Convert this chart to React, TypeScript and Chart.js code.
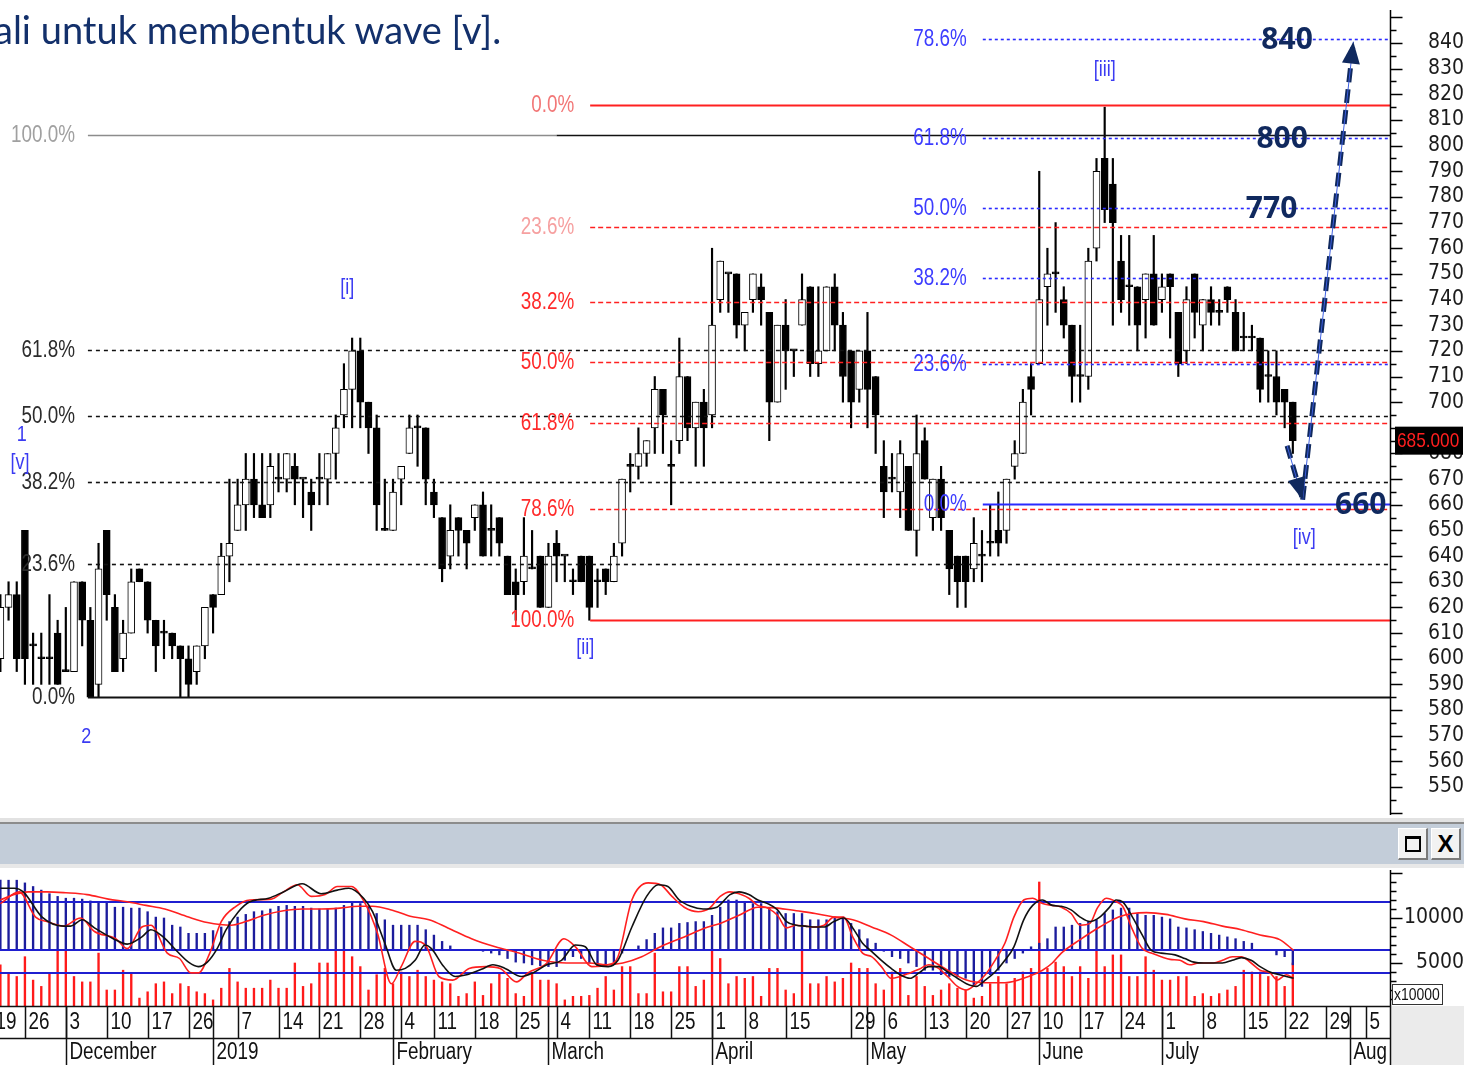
import React, { useEffect, useRef } from 'react';
import { Chart, registerables } from 'chart.js';

Chart.register(...registerables);

const SANS = "'Liberation Sans', Arial, sans-serif";
const AXIS_FONT = "'DejaVu Sans Condensed', 'Liberation Sans', sans-serif";
const NAVY = '#10295e';

// ---------------- price candles (trading-day index; day 0 = 19 Nov 2018) ----------------
const FIRST_DAY = 1;
const opens = [
  600, 620, 625, 650, 605, 600, 600, 610, 595, 595,
  630, 615, 590, 650, 620, 600, 610, 635, 630, 615,
  610, 610, 605, 600, 595, 605, 625, 625, 640, 650,
  660, 670, 660, 660, 670, 670, 675, 670, 665, 670,
  670, 680, 695, 705, 720, 700, 690, 650, 650, 670,
  680, 690, 690, 665, 655, 640, 655, 650, 655, 660,
  650, 655, 640, 630, 630, 635, 640, 620, 645, 640,
  630, 640, 640, 630, 635, 630, 645, 675, 675, 680,
  690, 705, 675, 685, 710, 690, 700, 695, 740, 750,
  750, 730, 740, 745, 735, 700, 730, 720, 730, 745,
  715, 720, 745, 730, 720, 705, 720, 710, 675, 670,
  665, 675, 650, 685, 655, 670, 650, 640, 640, 635,
  640, 645, 650, 650, 675, 680, 710, 715, 745, 750,
  740, 730, 710, 710, 760, 795, 785, 755, 745, 745,
  740, 750, 740, 750, 735, 720, 750, 730, 740, 735,
  745, 735, 725, 725, 725, 710, 710, 705, 700,
];
const highs = [
  625, 630, 630, 650, 610, 610, 625, 615, 620, 630,
  630, 620, 645, 650, 625, 615, 635, 635, 630, 615,
  615, 610, 605, 605, 605, 620, 625, 645, 670, 670,
  680, 680, 680, 680, 680, 680, 680, 670, 670, 680,
  680, 695, 715, 725, 725, 700, 695, 670, 670, 675,
  695, 695, 690, 670, 655, 660, 655, 650, 660, 665,
  660, 655, 640, 635, 655, 650, 640, 645, 650, 640,
  635, 640, 640, 635, 635, 645, 670, 680, 690, 685,
  710, 705, 685, 725, 710, 700, 705, 760, 755, 750,
  750, 735, 750, 750, 735, 730, 740, 720, 750, 745,
  745, 745, 750, 735, 720, 720, 735, 710, 685, 680,
  685, 675, 695, 690, 670, 675, 650, 640, 640, 655,
  650, 660, 665, 670, 685, 705, 715, 790, 760, 770,
  745, 730, 730, 760, 795, 815, 795, 765, 765, 745,
  750, 765, 750, 750, 735, 745, 750, 740, 745, 740,
  745, 740, 735, 730, 725, 720, 720, 705, 700,
];
const lows = [
  595, 615, 595, 590, 590, 590, 590, 590, 595, 595,
  605, 585, 585, 615, 595, 595, 610, 630, 610, 595,
  600, 600, 585, 585, 590, 600, 610, 625, 630, 650,
  650, 655, 655, 655, 665, 665, 660, 655, 650, 660,
  660, 670, 690, 690, 690, 680, 650, 650, 650, 660,
  680, 675, 660, 655, 630, 635, 640, 635, 650, 640,
  640, 640, 625, 615, 625, 635, 620, 620, 630, 630,
  625, 630, 615, 620, 625, 630, 640, 665, 670, 675,
  680, 680, 660, 680, 685, 675, 675, 690, 735, 735,
  725, 720, 735, 730, 685, 700, 705, 710, 730, 710,
  710, 720, 720, 700, 690, 700, 690, 680, 655, 665,
  655, 650, 640, 670, 650, 650, 625, 620, 620, 630,
  630, 640, 640, 645, 670, 680, 695, 715, 730, 735,
  725, 700, 700, 705, 755, 770, 730, 735, 730, 720,
  725, 730, 735, 725, 710, 715, 725, 720, 730, 730,
  735, 720, 720, 720, 700, 700, 695, 690, 680,
];
const closes = [
  620, 625, 600, 600, 605, 600, 600, 590, 595, 630,
  615, 585, 635, 625, 595, 610, 630, 630, 615, 605,
  610, 605, 600, 590, 605, 620, 620, 640, 645, 660,
  670, 660, 655, 675, 670, 680, 670, 670, 660, 670,
  680, 690, 705, 720, 700, 690, 660, 650, 665, 675,
  690, 690, 670, 660, 635, 650, 650, 645, 660, 640,
  650, 645, 625, 625, 640, 635, 620, 640, 640, 640,
  630, 630, 620, 630, 630, 640, 670, 675, 680, 685,
  705, 695, 675, 710, 690, 700, 690, 730, 755, 750,
  730, 735, 750, 740, 700, 730, 720, 720, 740, 715,
  720, 745, 730, 710, 700, 720, 705, 695, 665, 670,
  680, 650, 680, 670, 670, 655, 635, 630, 630, 645,
  640, 645, 645, 670, 680, 700, 705, 740, 750, 750,
  730, 710, 710, 755, 790, 775, 770, 740, 745, 730,
  750, 730, 745, 745, 715, 740, 735, 740, 735, 735,
  740, 720, 725, 725, 705, 710, 700, 700, 685,
];

// ---------------- indicator panel ----------------
const HIST_BASE = 6450;
const histogram = [
  14200, 14200, 14200, 13900, 13500, 13100, 12700, 12400, 12200, 12200,
  12100, 11900, 11800, 11800, 11200, 11200, 11100, 11100, 10700, 10100,
  10000, 9200, 9000, 8300, 8300, 8300, 8600, 9000, 9600, 10100,
  10400, 10700, 10800, 11000, 11300, 11400, 11300, 11300, 11100, 11000,
  11000, 11100, 11400, 11800, 11600, 11300, 10500, 9800, 9200, 9200,
  9200, 9200, 8700, 8100, 7400, 6900, 6500, 6450, 6400, 6300,
  6100, 5900, 5500, 5100, 5000, 4800, 4700, 4600, 4600, 5300,
  5700, 5500, 5000, 4600, 4800, 5100, 6100, 6450, 6900, 7600,
  8300, 8900, 8900, 9400, 9500, 9600, 9600, 10300, 11200, 12000,
  12000, 11800, 11600, 11600, 11100, 10700, 10500, 10500, 10500, 9800,
  9800, 9800, 10100, 10100, 9400, 8700, 7700, 7200, 6300, 5700,
  5500, 5000, 4600, 4200, 4200, 3700, 3500, 3500, 3300, 2400,
  2400, 3700, 4200, 5000, 5500, 6100, 6800, 7200, 7700, 9000,
  9000, 9200, 9400, 9600, 9800, 10500, 10900, 11100, 11100, 10500,
  10300, 10300, 10100, 9900, 9000, 8900, 8700, 8500, 8300, 8100,
  7900, 7700, 7400, 7200, 6450, 6450, 5900, 5700, 4800,
];
const volumes = [
  4800, 3900, 3500, 5700, 3100, 2400, 3900, 6300, 6300, 3500,
  2900, 2900, 6100, 2000, 2000, 4200, 3900, 1100, 1800, 2700,
  2900, 1600, 2700, 2400, 1800, 1600, 900, 2200, 4400, 2900,
  2200, 2200, 2200, 3100, 2200, 2200, 5000, 2400, 2700, 5000,
  5000, 6300, 6300, 5700, 4600, 2000, 3700, 4400, 2700, 4000,
  3500, 4200, 3500, 3100, 2900, 2700, 1300, 1600, 2900, 1400,
  2700, 3900, 3300, 1600, 1300, 3900, 3100, 3100, 2700, 900,
  1300, 1300, 1400, 2200, 3500, 2000, 4600, 4600, 1600, 1600,
  6100, 1800, 1800, 4600, 4600, 2400, 3100, 6300, 5500, 2700,
  3500, 3300, 3500, 1300, 4400, 4400, 2000, 1600, 6400, 2700,
  2700, 3500, 2900, 3300, 5000, 4400, 4400, 2700, 2000, 4000,
  4400, 1400, 3500, 2400, 1400, 2000, 2700, 2200, 2000, 1100,
  1300, 2700, 3500, 2700, 3300, 4000, 4400, 14000, 4400, 5100,
  4600, 3500, 4600, 3300, 6400, 4600, 5900, 5900, 3500, 3500,
  5700, 4200, 3100, 3100, 3500, 3500, 1300, 1600, 1300, 1600,
  2000, 2400, 4200, 4000, 4000, 3500, 3500, 2400, 5000,
];
const oscBlack = [
  [1.0, 13300], [2.7, 13300], [3.8, 12900], [6.1, 10100], [8.7, 9100], [9.6, 9100], [11.0, 9800], [12.5, 8900],
  [14.8, 7700], [16.5, 7100], [18.3, 7900], [19.4, 8700], [20.9, 7900], [22.6, 6300], [24.0, 5100], [25.2, 4600],
  [26.3, 5100], [27.5, 6600], [28.6, 8700], [30.1, 10700], [31.5, 11800], [33.8, 12200], [35.6, 12900], [37.9, 13800],
  [40.2, 12700], [42.2, 13100], [43.6, 13300], [45.4, 12200], [46.5, 10700], [48.0, 7200], [49.4, 4200], [50.5, 4400],
  [51.7, 5300], [52.9, 7000], [53.7, 6600], [55.2, 4600], [56.6, 3500], [58.0, 3700], [59.8, 4300], [61.2, 4800],
  [62.7, 4400], [64.7, 3500], [66.1, 3900], [67.8, 4800], [69.6, 5300], [71.3, 7000], [72.5, 6800], [73.9, 4800],
  [75.3, 4600], [76.5, 5300], [78.2, 9000], [80.0, 12400], [81.4, 13700], [82.6, 13500], [84.0, 12000], [85.4, 11300],
  [86.9, 11000], [88.6, 11200], [90.2, 12600], [91.3, 12900], [92.5, 12600], [93.6, 12000], [94.8, 11600], [96.0, 10900],
  [97.1, 9600], [98.3, 9200], [99.4, 9100], [100.6, 9000], [101.7, 9000], [102.9, 9600], [104.1, 10000], [105.2, 8900],
  [106.4, 7200], [107.5, 6300], [108.7, 5300], [109.9, 4400], [111.0, 3700], [112.2, 3300], [113.3, 3900], [114.5, 4600],
  [115.7, 4600], [116.8, 4000], [118.0, 3300], [119.1, 2700], [120.3, 2400], [121.4, 3100], [122.6, 4000], [123.8, 5300],
  [124.9, 6800], [126.1, 9800], [127.2, 11400], [128.4, 12000], [129.6, 11400], [130.7, 11300], [131.9, 10900], [133.0, 10100],
  [134.2, 9600], [135.4, 10100], [136.5, 11100], [137.4, 12000], [138.2, 11800], [139.4, 10100], [140.6, 8100], [141.7, 6400],
  [142.9, 6100], [144.6, 5900], [145.8, 5500], [146.9, 5100], [148.1, 5000], [149.3, 5000], [150.4, 5000], [151.6, 5300],
  [152.7, 5600], [153.9, 5300], [155.0, 4600], [156.2, 4000], [157.4, 3700], [158.2, 3500], [159.1, 3300],
];
const oscRed = [
  [1.0, 11600], [3.3, 12900], [5.3, 10100], [6.7, 9600], [8.7, 9100], [10.8, 10000], [12.5, 8500], [15.1, 7700],
  [16.5, 6600], [18.3, 9000], [19.4, 9200], [21.4, 6100], [22.9, 5500], [24.3, 3900], [25.2, 3900], [26.6, 6100],
  [28.0, 9600], [29.8, 11300], [31.5, 12000], [34.1, 12100], [35.6, 12900], [37.3, 13700], [39.0, 12400], [40.7, 12600],
  [42.2, 13500], [43.9, 13500], [45.6, 11600], [47.1, 8300], [48.8, 2700], [50.0, 4600], [51.7, 7400], [53.1, 6800],
  [54.6, 3500], [56.3, 3100], [58.3, 4400], [60.3, 4600], [62.1, 4400], [64.1, 2900], [65.5, 3900], [67.8, 5000],
  [69.9, 7700], [71.3, 6800], [73.3, 4600], [75.3, 4800], [76.5, 5700], [78.2, 12000], [80.2, 13900], [81.7, 13700],
  [83.1, 12400], [84.6, 11200], [86.3, 10700], [87.7, 11100], [89.0, 12400], [90.2, 12900], [91.3, 12700], [92.5, 12200],
  [93.6, 11400], [94.8, 11100], [96.0, 10300], [97.1, 8900], [98.3, 9200], [99.4, 9100], [100.6, 9000], [101.7, 9200],
  [102.9, 10100], [104.1, 10100], [105.2, 7900], [106.4, 6100], [107.5, 5700], [108.7, 4600], [109.9, 3300], [111.0, 3500],
  [112.2, 3900], [113.3, 4300], [114.5, 4800], [115.7, 4400], [116.8, 3500], [118.0, 2400], [119.1, 2000], [120.3, 2700],
  [121.4, 3700], [122.6, 5300], [123.8, 7200], [124.9, 10100], [126.1, 12000], [127.2, 12200], [128.4, 11600], [129.6, 11400],
  [130.7, 11200], [131.9, 10500], [133.0, 9200], [134.2, 9400], [135.1, 11100], [136.2, 12200], [137.4, 11800], [138.2, 11300],
  [139.4, 8700], [140.6, 6600], [141.7, 6100], [142.9, 5700], [144.0, 5400], [145.2, 5300], [146.4, 4800], [147.5, 5000],
  [149.3, 5000], [150.4, 5300], [151.6, 5700], [152.7, 5700], [153.9, 5000], [155.0, 4200], [156.2, 3900], [157.1, 3100],
  [158.2, 3700], [159.1, 3300],
];
const oscSlow = [
  [1.0, 12000], [2.7, 12600], [4.4, 12900], [6.7, 12900], [9.0, 12800], [11.6, 12600], [14.2, 12100], [16.5, 11800],
  [18.8, 11400], [21.1, 11000], [24.0, 10100], [26.3, 9500], [29.2, 9200], [31.0, 9600], [33.2, 10300], [35.6, 10800],
  [37.9, 11000], [40.2, 11000], [42.5, 11100], [44.8, 11300], [46.5, 11300], [48.8, 10900], [51.1, 10200], [53.4, 9800],
  [55.7, 8900], [58.6, 7700], [61.5, 6800], [64.4, 6100], [67.3, 5300], [70.2, 5000], [73.0, 5000], [75.1, 4800],
  [77.1, 5000], [79.4, 5700], [81.7, 6800], [84.6, 7900], [87.5, 9000], [89.0, 9400], [91.3, 10300], [93.6, 11200],
  [96.0, 11100], [98.3, 10800], [100.6, 10500], [102.9, 10100], [105.2, 9800], [107.5, 9000], [109.9, 8100], [112.2, 6800],
  [114.5, 5500], [116.8, 4200], [119.1, 3100], [121.4, 2800], [123.8, 2800], [126.7, 3500], [128.4, 4200], [129.6, 5000],
  [130.7, 6100], [133.0, 7600], [135.4, 9000], [137.7, 10100], [139.4, 10500], [141.1, 10600], [143.5, 10400], [145.8, 9900],
  [148.1, 9600], [150.4, 9100], [152.7, 8700], [155.0, 8100], [157.4, 7600], [159.1, 6400],
];
const indicatorLevels = [11800, 6450, 3900];
const indicatorTicks = [5000, 10000];

// ---------------- axes ----------------
const priceTicks = [550, 560, 570, 580, 590, 600, 610, 620, 630, 640, 650, 660, 670, 680, 690, 700,
  710, 720, 730, 740, 750, 760, 770, 780, 790, 800, 810, 820, 830, 840];
const weekDays = [0, 4, 9, 14, 19, 24, 30, 35, 40, 45, 50, 54, 59, 64, 69, 73, 78, 83, 88, 92, 97,
  105, 109, 114, 119, 124, 128, 133, 138, 143, 148, 153, 158, 163, 168];
const weekLabels = ['19', '26', '3', '10', '17', '26', '7', '14', '21', '28', '4', '11', '18', '25', '4', '11', '18', '25',
  '1', '8', '15', '29', '6', '13', '20', '27', '10', '17', '24', '1', '8', '15', '22', '29', '5'];
const monthDays = [9, 27, 49, 68, 88, 107, 128, 143, 166];
const monthLabels = ['December', '2019', 'February', 'March', 'April', 'May', 'June', 'July', 'Aug'];
const X_MIN = 0.9535;
const X_MAX = 170.88;

// ---------------- Fibonacci studies & annotations ----------------
const blackFibLabels = ['100.0%', '61.8%', '50.0%', '38.2%', '23.6%', '0.0%'];
const blackFibValues = [804.1, 720.3, 694.5, 668.7, 636.8, 585.1];
const BLACK_FIB_FROM = 11.7;
const BLACK_FIB_GRAY_UNTIL = 69.0;
const redFibLabels = ['0.0%', '23.6%', '38.2%', '50.0%', '61.8%', '78.6%', '100.0%'];
const redFibValues = [815.8, 768.2, 739.1, 715.5, 691.9, 658.2, 615.1];
const RED_FIB_FROM = 73.1;
const blueFibLabels = ['78.6%', '61.8%', '50.0%', '38.2%', '23.6%', '0.0%'];
const blueFibValues = [841.5, 802.8, 775.6, 748.4, 715.0, 660.3];
const BLUE_FIB_FROM = 121.1;

const waveTexts = ['[i]', '[ii]', '[iii]', '[iv]', '2', '1', '[v]'];
const waveDays = [43.4, 72.5, 136.0, 160.4, 11.5, 3.6, 3.4];
const waveValues = [744.5, 604.2, 829.5, 647.1, 569.5, 687.2, 676.3];

const targetTexts = ['840', '800', '770', '660'];
const targetDays = [158.3, 157.7, 156.4, 167.3];
const targetValues = [841.5, 802.8, 775.6, 660.3];

const projDays = [158.3, 160.2, 166.4];
const projValues = [683, 662, 840.5];

// ---------------- drawing helpers ----------------
function hline(ctx: any, x0: number, x1: number, y: number) {
  ctx.beginPath();
  ctx.moveTo(x0, y);
  ctx.lineTo(x1, y);
  ctx.stroke();
}

// condensed sans text (Arial-Narrow look)
function narrowText(ctx: any, text: string, x: number, y: number, size: number, color: string, align: string) {
  ctx.save();
  ctx.font = `${size}px ${SANS}`;
  ctx.fillStyle = color;
  ctx.textAlign = align;
  ctx.textBaseline = 'middle';
  ctx.translate(x, y);
  ctx.scale(0.82, 1);
  ctx.fillText(text, 0, 0);
  ctx.restore();
}

const mainDecor = {
  id: 'mainDecor',
  afterDatasetDraw(chart: any, args: any) {
    if (args.index !== 0) return; // right after the candle bodies
    const { ctx, chartArea, scales } = chart;
    const xs = scales.x;
    const ys = scales.y;
    const right = chartArea.right;
    const Y = (v: number) => Math.round(ys.getPixelForValue(v)) + 0.5;
    ctx.save();

    // black retracement
    const bx = xs.getPixelForValue(BLACK_FIB_FROM);
    blackFibValues.forEach((v, i) => {
      const py = Y(v);
      const last = i === blackFibValues.length - 1;
      ctx.setLineDash(i === 0 || last ? [] : [4, 4]);
      ctx.lineWidth = last ? 2 : 1.6;
      if (i === 0) {
        const gx = xs.getPixelForValue(BLACK_FIB_GRAY_UNTIL);
        ctx.strokeStyle = '#8c8c8c';
        hline(ctx, bx, gx, py);
        ctx.strokeStyle = '#111';
        hline(ctx, gx, right, py);
      } else {
        ctx.strokeStyle = '#111';
        hline(ctx, bx, right, py);
      }
      narrowText(ctx, blackFibLabels[i], bx - 13, py, 23, i === 0 ? '#a0a0a0' : '#2b2b2b', 'right');
    });

    // red retracement
    const rx = xs.getPixelForValue(RED_FIB_FROM);
    const redTextColors = ['#f27777', '#f6a0a0', '#ff2a2a', '#ff2a2a', '#ff2a2a', '#ff2a2a', '#ff2a2a'];
    redFibValues.forEach((v, i) => {
      const py = Y(v);
      const solid = i === 0 || i === redFibValues.length - 1;
      ctx.setLineDash(solid ? [] : [5, 3]);
      ctx.lineWidth = solid ? 2 : 1.6;
      ctx.strokeStyle = '#ff2020';
      hline(ctx, rx, right, py);
      narrowText(ctx, redFibLabels[i], rx - 16, py, 23, redTextColors[i], 'right');
    });

    // blue extension
    const ux = xs.getPixelForValue(BLUE_FIB_FROM);
    blueFibValues.forEach((v, i) => {
      const py = Y(v);
      const last = i === blueFibValues.length - 1;
      ctx.setLineDash(last ? [] : [3, 3]);
      ctx.lineWidth = last ? 2 : 1.6;
      ctx.strokeStyle = '#2a2aff';
      hline(ctx, ux, right, py);
      narrowText(ctx, blueFibLabels[i], ux - 16, py, 23, '#3c3cff', 'right');
    });
    ctx.restore();
  },
  afterDraw(chart: any) {
    const { ctx, chartArea, scales } = chart;
    const xs = scales.x;
    const ys = scales.y;
    ctx.save();
    // price axis line and ticks
    const ax = chartArea.right + 0.5;
    ctx.strokeStyle = '#000';
    ctx.lineWidth = 1.5;
    ctx.setLineDash([]);
    ctx.beginPath();
    ctx.moveTo(ax, 10);
    ctx.lineTo(ax, chartArea.bottom);
    ctx.stroke();
    for (let v = 540; v <= 850; v += 5) {
      const py = Math.round(ys.getPixelForValue(v)) + 0.5;
      hline(ctx, ax, ax + (v % 10 === 0 ? 12 : 6), py);
    }

    // wave counts
    waveTexts.forEach((t, i) => {
      narrowText(ctx, t, xs.getPixelForValue(waveDays[i]), ys.getPixelForValue(waveValues[i]), 22, '#3b3bf2', 'center');
    });

    // arrow heads of the projection
    const P = projDays.map((d, i) => [xs.getPixelForValue(d), ys.getPixelForValue(projValues[i])]);
    const head = (a: number[], b: number[]) => {
      const ang = Math.atan2(b[1] - a[1], b[0] - a[0]);
      const L = 22;
      const W = 9;
      const c = Math.cos(ang);
      const s = Math.sin(ang);
      ctx.beginPath();
      ctx.moveTo(b[0], b[1]);
      ctx.lineTo(b[0] - L * c + W * s, b[1] - L * s - W * c);
      ctx.lineTo(b[0] - L * c - W * s, b[1] - L * s + W * c);
      ctx.closePath();
      ctx.fill();
    };
    ctx.fillStyle = NAVY;
    head(P[0], P[1]);
    head(P[1], P[2]);

    // target numbers
    ctx.font = "bold 30px 'Open Sans', 'DejaVu Sans', sans-serif";
    ctx.fillStyle = NAVY;
    ctx.textAlign = 'center';
    ctx.textBaseline = 'middle';
    targetTexts.forEach((t, i) => {
      ctx.fillText(t, xs.getPixelForValue(targetDays[i]), ys.getPixelForValue(targetValues[i]) + 1);
    });

    // last price box
    const lc = closes[closes.length - 1];
    const py = ys.getPixelForValue(lc);
    ctx.fillStyle = '#000';
    ctx.fillRect(chartArea.right + 5, py - 14, 68, 28);
    narrowText(ctx, lc.toFixed(3), chartArea.right + 7, py + 1, 21, '#ff1f1f', 'left');
    ctx.restore();
  },
};

const indDecor = {
  id: 'indDecor',
  afterDatasetDraw(chart: any, args: any) {
    if (args.index !== 1) return; // after the histogram
    const { ctx, chartArea, scales } = chart;
    ctx.save();
    ctx.strokeStyle = '#1f1fd0';
    ctx.lineWidth = 2;
    indicatorLevels.forEach((v) => {
      hline(ctx, chartArea.left, chartArea.right, Math.round(scales.y.getPixelForValue(v)));
    });
    ctx.restore();
  },
  afterDraw(chart: any) {
    const { ctx, chartArea, scales } = chart;
    const xs = scales.x;
    const ys = scales.y;
    const W = chart.width;
    const H = chart.height;
    ctx.save();
    // value axis
    const ax = chartArea.right + 0.5;
    ctx.strokeStyle = '#000';
    ctx.lineWidth = 1.5;
    ctx.beginPath();
    ctx.moveTo(ax, chartArea.top);
    ctx.lineTo(ax, chartArea.bottom);
    ctx.stroke();
    for (let v = 1000; v <= 15000; v += 1000) {
      const py = Math.round(ys.getPixelForValue(v)) + 0.5;
      hline(ctx, ax, ax + (v % 5000 === 0 ? 12 : 6), py);
    }
    // unit box
    ctx.fillStyle = '#fff';
    ctx.fillRect(chartArea.right + 2, chartArea.bottom - 22, 50, 21);
    ctx.strokeStyle = '#333';
    ctx.lineWidth = 1;
    ctx.strokeRect(chartArea.right + 2.5, chartArea.bottom - 21.5, 50, 20);
    narrowText(ctx, 'x10000', chartArea.right + 4, chartArea.bottom - 11, 17, '#111', 'left');

    // date axis
    const top = chartArea.bottom;
    const mid = top + 32;
    ctx.fillStyle = '#ebebeb';
    ctx.fillRect(chartArea.right, top, W - chartArea.right, H - top);
    ctx.strokeStyle = '#111';
    ctx.lineWidth = 1.5;
    hline(ctx, 0, chartArea.right, top + 0.5);
    hline(ctx, 0, chartArea.right, mid + 0.5);
    ctx.beginPath();
    ctx.moveTo(ax, top);
    ctx.lineTo(ax, H);
    ctx.stroke();
    ctx.beginPath();
    ctx.rect(0, top, chartArea.right, H - top);
    ctx.clip();
    weekDays.forEach((d, i) => {
      const px = Math.round(xs.getPixelForValue(d)) + 0.5;
      ctx.beginPath();
      ctx.moveTo(px, top);
      ctx.lineTo(px, mid);
      ctx.stroke();
      narrowText(ctx, weekLabels[i], px + 3, (top + mid) / 2 + 1, 23, '#111', 'left');
    });
    monthDays.forEach((d, i) => {
      const px = Math.round(xs.getPixelForValue(d)) + 0.5;
      ctx.beginPath();
      ctx.moveTo(px, top);
      ctx.lineTo(px, H);
      ctx.stroke();
      narrowText(ctx, monthLabels[i], px + 3, (mid + H) / 2 + 1, 23, '#111', 'left');
    });
    ctx.restore();
  },
};

// ---------------- component ----------------
export default function App() {
  const mainRef = useRef<HTMLCanvasElement>(null);
  const indRef = useRef<HTMLCanvasElement>(null);

  useEffect(() => {
    const days = opens.map((_, i) => i + FIRST_DAY);
    const lastClose = closes[closes.length - 1];

    const main = new Chart(mainRef.current as HTMLCanvasElement, {
      type: 'bar',
      data: {
        datasets: [
          {
            type: 'bar',
            label: 'body',
            data: days.map((d, i) => ({ x: d, y: [opens[i], closes[i]] })) as any,
            backgroundColor: opens.map((o, i) => (closes[i] > o ? '#ffffff' : '#000000')),
            borderColor: '#000',
            borderWidth: 1,
            borderSkipped: false,
            barThickness: 7,
            minBarLength: 2,
            grouped: false,
            order: 1,
          } as any,
          {
            type: 'bar',
            label: 'wick',
            data: days.map((d, i) => ({ x: d, y: [lows[i], highs[i]] })) as any,
            backgroundColor: '#000',
            borderWidth: 0,
            barThickness: 1.5,
            grouped: false,
            order: 2,
          } as any,
          {
            type: 'line',
            label: 'projection guide',
            data: projDays.map((d, i) => ({ x: d, y: projValues[i] })) as any,
            borderColor: '#3d5fe0',
            borderWidth: 1,
            pointRadius: 0,
            tension: 0,
            order: 0,
          } as any,
          {
            type: 'line',
            label: 'projection down',
            data: projDays.slice(0, 2).map((d, i) => ({ x: d, y: projValues[i] })) as any,
            borderColor: NAVY,
            borderWidth: 5,
            borderDash: [13, 7],
            pointRadius: 0,
            tension: 0,
            order: 0,
          } as any,
          {
            type: 'line',
            label: 'projection up',
            data: projDays.slice(1).map((d, i) => ({ x: d, y: projValues[i + 1] })) as any,
            borderColor: NAVY,
            borderWidth: 5,
            borderDash: [14, 7],
            pointRadius: 0,
            tension: 0,
            order: 0,
          } as any,
        ],
      },
      options: {
        responsive: false,
        animation: false,
        events: [],
        layout: { padding: { top: 15, bottom: 3, left: 0, right: 0 } },
        plugins: { legend: { display: false }, tooltip: { enabled: false } },
        scales: {
          x: { type: 'linear', min: X_MIN, max: X_MAX, display: false, offset: false, bounds: 'data' } as any,
          y: {
            type: 'linear',
            position: 'right',
            min: 539.09,
            max: 850.91,
            bounds: 'data',
            grid: { display: false, drawTicks: false },
            border: { display: false },
            afterBuildTicks: (s: any) => {
              s.ticks = priceTicks.map((v) => ({ value: v }));
            },
            afterFit: (s: any) => {
              s.width = 74;
              s.paddingTop = 0;
              s.paddingBottom = 0;
            },
            ticks: {
              autoSkip: false,
              font: { family: AXIS_FONT, size: 21 },
              color: '#1b1b1b',
              crossAlign: 'far',
              padding: 38,
              callback: (v: any) => (v > lastClose && v - lastClose < 6 ? '' : String(v)),
            },
          } as any,
        },
      },
      plugins: [mainDecor],
    });

    const ind = new Chart(indRef.current as HTMLCanvasElement, {
      type: 'bar',
      data: {
        datasets: [
          {
            type: 'bar',
            label: 'volume',
            data: days.map((d, i) => ({ x: d, y: volumes[i] })) as any,
            backgroundColor: '#ff1a1a',
            barThickness: 1.7,
            grouped: false,
            order: 5,
          } as any,
          {
            type: 'bar',
            label: 'histogram',
            data: days.map((d, i) => ({ x: d, y: histogram[i] })) as any,
            base: HIST_BASE,
            backgroundColor: '#1c1c9c',
            barThickness: 1.7,
            grouped: false,
            order: 4,
          } as any,
          {
            type: 'line',
            label: 'slow',
            data: oscSlow.map(([d, v]) => ({ x: d, y: v })) as any,
            borderColor: '#ff2020',
            borderWidth: 1.6,
            pointRadius: 0,
            cubicInterpolationMode: 'monotone',
            order: 2,
          } as any,
          {
            type: 'line',
            label: 'fast red',
            data: oscRed.map(([d, v]) => ({ x: d, y: v })) as any,
            borderColor: '#ff2020',
            borderWidth: 1.6,
            pointRadius: 0,
            cubicInterpolationMode: 'monotone',
            order: 1,
          } as any,
          {
            type: 'line',
            label: 'fast black',
            data: oscBlack.map(([d, v]) => ({ x: d, y: v })) as any,
            borderColor: '#111',
            borderWidth: 1.6,
            pointRadius: 0,
            cubicInterpolationMode: 'monotone',
            order: 0,
          } as any,
        ],
      },
      options: {
        responsive: false,
        animation: false,
        events: [],
        layout: { padding: { top: 2, bottom: 59, left: 0, right: 0 } },
        plugins: { legend: { display: false }, tooltip: { enabled: false } },
        scales: {
          x: { type: 'linear', min: X_MIN, max: X_MAX, display: false, offset: false, bounds: 'data' } as any,
          y: {
            type: 'linear',
            position: 'right',
            min: 222.2,
            max: 15333.3,
            bounds: 'data',
            grid: { display: false, drawTicks: false },
            border: { display: false },
            afterBuildTicks: (s: any) => {
              s.ticks = indicatorTicks.map((v) => ({ value: v }));
            },
            afterFit: (s: any) => {
              s.width = 74;
              s.paddingTop = 0;
              s.paddingBottom = 0;
            },
            ticks: {
              autoSkip: false,
              font: { family: AXIS_FONT, size: 21 },
              color: '#1b1b1b',
              crossAlign: 'far',
              padding: 17,
              callback: (v: any) => String(v),
            },
          } as any,
        },
      },
      plugins: [indDecor],
    });

    return () => {
      main.destroy();
      ind.destroy();
    };
  }, []);

  const btn: React.CSSProperties = {
    position: 'absolute',
    top: 828,
    width: 30,
    height: 32,
    boxSizing: 'border-box',
    background: '#f2f2f2',
    borderTop: '1px solid #ffffff',
    borderLeft: '1px solid #ffffff',
    borderRight: '2px solid #7a7a7a',
    borderBottom: '2px solid #7a7a7a',
    display: 'flex',
    alignItems: 'center',
    justifyContent: 'center',
  };

  return (
    <div style={{ position: 'fixed', left: 0, top: 0, width: 1464, height: 1065, overflow: 'hidden', background: '#fff' }}>
      <canvas ref={mainRef} width={1464} height={818} style={{ position: 'absolute', left: 0, top: 0, width: 1464, height: 818 }} />
      <div style={{ position: 'absolute', left: 0, top: 818, width: 1464, height: 4, background: '#e2e2e2' }} />
      <div style={{ position: 'absolute', left: 0, top: 822, width: 1464, height: 2, background: '#8c8c8c' }} />
      <div style={{ position: 'absolute', left: 0, top: 824, width: 1464, height: 40, background: '#c3cdd9' }} />
      <div style={{ position: 'absolute', left: 0, top: 864, width: 1464, height: 4, background: '#e8e8e8' }} />
      <div style={{ ...btn, left: 1398 }}>
        <div style={{ width: 16, height: 16, border: '2px solid #000', borderTopWidth: 3, boxSizing: 'border-box' }} />
      </div>
      <div style={{ ...btn, left: 1431, fontFamily: "'Liberation Sans', Arial, sans-serif", fontWeight: 'bold', fontSize: 24, color: '#000' }}>
        X
      </div>
      <canvas ref={indRef} width={1464} height={197} style={{ position: 'absolute', left: 0, top: 868, width: 1464, height: 197 }} />
      <div
        style={{
          position: 'absolute',
          left: -6,
          top: 10,
          fontFamily: "Lato, 'Open Sans', sans-serif",
          fontSize: 38,
          lineHeight: '38px',
          color: '#13306b',
          whiteSpace: 'nowrap',
        }}
      >
        ali untuk membentuk wave [v].
      </div>
    </div>
  );
}
